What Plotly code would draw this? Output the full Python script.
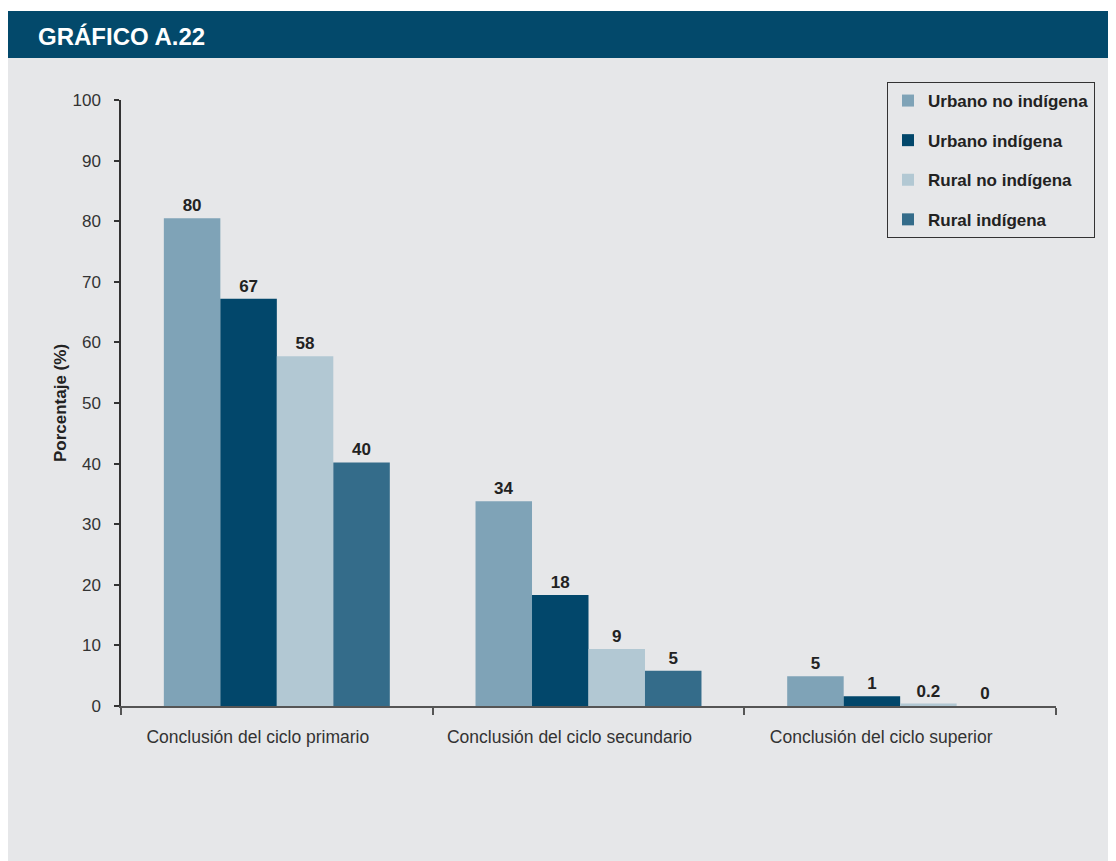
import plotly.graph_objects as go

categories = ["Conclusión del ciclo primario", "Conclusión del ciclo secundario", "Conclusión del ciclo superior"]
series_names = ["Urbano no indígena", "Urbano indígena", "Rural no indígena", "Rural indígena"]
values = {
    "Urbano no indígena": [80.5, 33.8, 4.9],
    "Urbano indígena": [67.2, 18.3, 1.6],
    "Rural no indígena": [57.7, 9.4, 0.4],
    "Rural indígena": [40.2, 5.8, 0.0],
}
labels = {
    "Urbano no indígena": ["80", "34", "5"],
    "Urbano indígena": ["67", "18", "1"],
    "Rural no indígena": ["58", "9", "0.2"],
    "Rural indígena": ["40", "5", "0"],
}
colors = ["#7fa3b7", "#02476b", "#b2c8d3", "#346c8a"]
y_ticks = list(range(0, 101, 10))

FONT = "Liberation Sans, Arial, Helvetica, sans-serif"
BG = "#e6e7e9"

fig = go.Figure()
for i, name in enumerate(series_names):
    fig.add_trace(go.Bar(
        x=categories, y=values[name], name=name,
        marker=dict(color=colors[i], line=dict(width=0)),
        text=labels[name], textposition="outside", texttemplate="%{text}",
        textfont=dict(family=FONT, size=17, color="#222222", weight="bold"),
        cliponaxis=False, legendgroup=name,
    ))

# page has an 8px body margin; work in page pixel coordinates
OFF = 8
PAGE_W, PAGE_H = 1116, 861
W, H = PAGE_W - OFF, PAGE_H - OFF
AX_L, AX_R, AX_T, AX_B = 121, 1056, 100, 706
L, R, T, B = AX_L - OFF, PAGE_W - AX_R, AX_T - OFF, PAGE_H - AX_B
pw, ph = AX_R - AX_L, AX_B - AX_T

def px_x(px):
    return (px - AX_L) / pw

def px_y(py):
    return (AX_B - py) / ph

shapes = [
    dict(type="rect", xref="paper", yref="paper", x0=px_x(0), x1=px_x(PAGE_W), y0=px_y(PAGE_H), y1=px_y(58),
         fillcolor=BG, line=dict(width=0), layer="below"),
    dict(type="rect", xref="paper", yref="paper", x0=px_x(0), x1=px_x(PAGE_W), y0=px_y(58), y1=px_y(11),
         fillcolor="#03496b", line=dict(width=0), layer="below"),
]

fig.update_layout(
    width=W, height=H,
    margin=dict(l=L, r=R, t=T, b=B, autoexpand=False),
    paper_bgcolor="white", plot_bgcolor=BG,
    barmode="group", bargap=0.275, bargroupgap=0,
    font=dict(family=FONT, size=17, color="#333333"),
    shapes=shapes,
    showlegend=True,
    legend=dict(
        x=px_x(887), y=px_y(82), xanchor="left", yanchor="top",
        bgcolor=BG, bordercolor="#333333", borderwidth=1,
        font=dict(family=FONT, size=17, color="#222222", weight="bold"),
        traceorder="grouped", tracegroupgap=14.5, itemwidth=30,
    ),
    annotations=[
        dict(text="GRÁFICO A.22", xref="paper", yref="paper", x=px_x(36), y=px_y(36),
             xanchor="left", yanchor="middle", showarrow=False,
             font=dict(family=FONT, size=24, color="white", weight="bold")),
    ],
    xaxis=dict(
        range=[-0.5, 2.5], tickson="boundaries", ticks="outside", ticklen=7, tickwidth=1.5,
        tickcolor="#555555", showline=True, linecolor="#555555", linewidth=2,
        showgrid=False, zeroline=False, ticklabelstandoff=14, ticklabelshift=-19,
        tickfont=dict(family=FONT, size=17.5, color="#333333"),
    ),
    yaxis=dict(
        range=[0, 100], tickvals=y_ticks, ticks="outside", ticklen=5, tickwidth=1.5,
        tickcolor="#333333", showline=True, linecolor="#333333", linewidth=1.5,
        showgrid=False, zeroline=False, ticklabelstandoff=10,
        tickfont=dict(family=FONT, size=17, color="#333333"),
        title=dict(text="Porcentaje (%)", standoff=2,
                   font=dict(family=FONT, size=17, color="#222222", weight="bold")),
    ),
)

fig.write_html("out.html")
